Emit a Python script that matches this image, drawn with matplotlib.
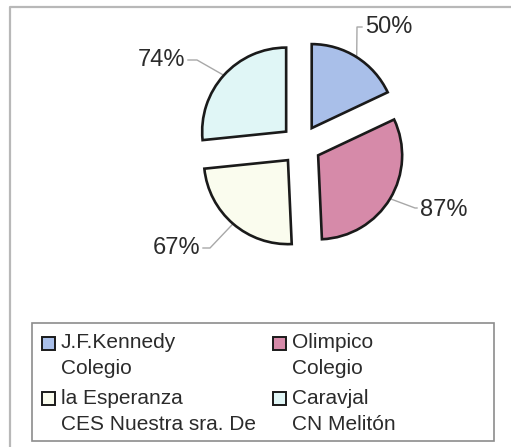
import matplotlib.pyplot as plt
import numpy as np
from matplotlib.patches import Rectangle

plt.rcParams["font.family"] = ["Liberation Sans", "DejaVu Sans"]

values = [50, 87, 67, 74]
pct_labels = ["50%", "87%", "67%", "74%"]
colors = ["#a9bfe9", "#d68aa9", "#fafcee", "#e0f6f6"]
legend_names = [
    ("J.F.Kennedy", "Colegio"),
    ("Olimpico", "Colegio"),
    ("la Esperanza", "CES Nuestra sra. De"),
    ("Caravjal", "CN Melitón"),
]

W, H = 511, 447
fig = plt.figure(figsize=(W / 100, H / 100), dpi=100)
ax = fig.add_axes([0, 0, 1, 1])

# explode is in data units (pixels here)
wedges, _ = ax.pie(
    values,
    colors=colors,
    startangle=90,
    counterclock=False,
    explode=[20] * 4,
    radius=84,
    center=(301, H - 145),
    wedgeprops=dict(edgecolor="#1a1a1a", linewidth=1.9),
)
ax.set_xlim(0, W)
ax.set_ylim(0, H)
ax.set_aspect("auto")
ax.axis("off")

# label layout: elbow point and text position (pixels, y up), alignment
label_layout = [
    ((357, H - 27), (365, H - 27), "left"),
    ((415, H - 208), (420, H - 210), "left"),
    ((210, H - 248), (200, H - 248), "right"),
    ((197, H - 60), (185, H - 60), "right"),
]
for w, lab, (elbow, tpos, ha) in zip(wedges, pct_labels, label_layout):
    mid = np.deg2rad((w.theta1 + w.theta2) / 2)
    cx, cy = w.center
    r = w.r
    ax_pt = (cx + r * np.cos(mid), cy + r * np.sin(mid))
    xs = [ax_pt[0], elbow[0], tpos[0] + (-3 if ha == "left" else 3)]
    ys = [ax_pt[1], elbow[1], elbow[1]]
    ax.plot(xs, ys, color="#a8a8a8", lw=1.0, zorder=0)
    ax.text(tpos[0], tpos[1], lab, ha=ha, va="center", fontsize=17, color="#2b2b2b")

# outer chart frame (cropped)
ax.plot([10, 10, W], [0, H - 7, H - 7], color="#b8b8b8", lw=1.6, clip_on=False)

# legend box
ax.add_patch(Rectangle((32, H - 441), 462, 118, fill=False, edgecolor="#8c8c8c", lw=1.2))
col_x = [42, 273]
row_y = [343, 398]
for i, ((l1, l2), c) in enumerate(zip(legend_names, colors)):
    x0 = col_x[i % 2]
    y0 = row_y[i // 2]
    ax.add_patch(Rectangle((x0, H - y0 - 6.5), 13, 13, facecolor=c, edgecolor="#1a1a1a", lw=1.4))
    ax.text(x0 + 19, H - y0, l1, ha="left", va="center", fontsize=15, color="#2b2b2b")
    ax.text(x0 + 19, H - y0 - 26, l2, ha="left", va="center", fontsize=15, color="#2b2b2b")

fig.savefig("out.png", dpi=100)
